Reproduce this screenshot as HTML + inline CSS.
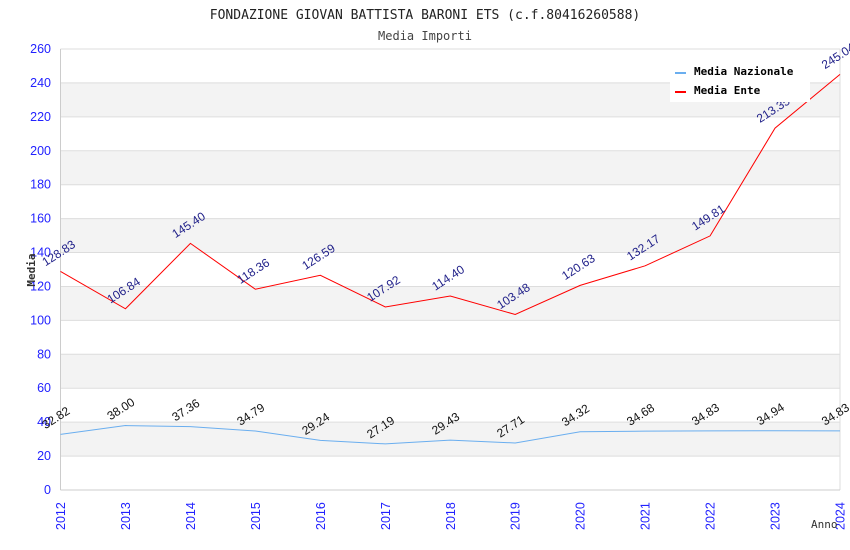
<!DOCTYPE html>
<html><head><meta charset="utf-8"><style>
body{margin:0;background:#fff;}
svg{display:block;font-family:"DejaVu Sans Mono","Liberation Mono",monospace;}
</style></head><body>
<svg id="chart" width="850" height="550" xmlns="http://www.w3.org/2000/svg">
<text x="425" y="19" text-anchor="middle" font-size="13" fill="#222">FONDAZIONE GIOVAN BATTISTA BARONI ETS (c.f.80416260588)</text>
<text x="425" y="40" text-anchor="middle" font-size="12" fill="#444">Media Importi</text>
<g id="bands"></g><g id="grid"></g><g id="axes"></g><g id="series"></g>
<text transform="translate(35,270) rotate(-90)" text-anchor="middle" font-size="11" font-weight="bold" fill="#333">Media</text>
<text x="811" y="528" font-size="11" fill="#333">Anno</text>
<g>
<rect x="670" y="60" width="140" height="42" fill="#fff"/>
<line x1="675" y1="73" x2="686" y2="73" stroke="#6aaeef" stroke-width="2"/>
<text x="694" y="75" font-size="11" font-weight="bold" fill="#000">Media Nazionale</text>
<line x1="675" y1="92" x2="686" y2="92" stroke="#f00" stroke-width="2"/>
<text x="694" y="94" font-size="11" font-weight="bold" fill="#000">Media Ente</text>
</g>
</svg>
<script>
const years=["2012","2013","2014","2015","2016","2017","2018","2019","2020","2021","2022","2023","2024"];
const nazionale=[32.82,38.00,37.36,34.79,29.24,27.19,29.43,27.71,34.32,34.68,34.83,34.94,34.83];
const ente=[128.83,106.84,145.40,118.36,126.59,107.92,114.40,103.48,120.63,132.17,149.81,213.35,245.04];
const yTicks=[0,20,40,60,80,100,120,140,160,180,200,220,240,260];
const NS="http://www.w3.org/2000/svg";
const L=60.5,R=840,T=49,B=490,YMAX=260;
const xs=i=>L+(R-L)*i/(years.length-1);
const ys=v=>B-(B-T)*v/YMAX;
function mk(t,a,p){const e=document.createElementNS(NS,t);for(const k in a)e.setAttribute(k,a[k]);p.appendChild(e);return e;}
const bands=document.getElementById('bands'),grid=document.getElementById('grid'),axes=document.getElementById('axes'),ser=document.getElementById('series');
for(let i=0;i<yTicks.length-1;i++){if(i%2===1){const r=mk('rect',{x:L,y:ys(yTicks[i+1]),width:R-L,height:ys(yTicks[i])-ys(yTicks[i+1]),fill:'#f3f3f3'},bands);

}}
yTicks.forEach(v=>{const l=mk('line',{x1:L,x2:R,y1:ys(v),y2:ys(v),stroke:'#ddd','stroke-width':1},grid);


const t=mk('text',{x:51,y:ys(v)+4,'text-anchor':'end','font-size':12.5,fill:'#22f','font-family':'Liberation Sans, sans-serif'},axes);t.textContent=v;

});
mk('line',{x1:L,x2:L,y1:T,y2:B,stroke:'#ccc'},axes);mk('line',{x1:R,x2:R,y1:T,y2:B,stroke:'#ddd'},axes);mk('line',{x1:L,x2:R,y1:B,y2:B,stroke:'#ccc'},axes);
years.forEach((y,i)=>{const t=mk('text',{transform:`translate(${xs(i)+4.5},${B+40}) rotate(-90)`,'font-size':12.5,fill:'#22f','font-family':'Liberation Sans, sans-serif'},axes);t.textContent=y;

});
function series(vals,color,lc,name){
const p=mk('polyline',{points:vals.map((v,i)=>xs(i)+','+ys(v)).join(' '),fill:'none',stroke:color,'stroke-width':1},ser);


vals.forEach((v,i)=>{const t=mk('text',{transform:`translate(${xs(i)-15},${ys(v)-5}) rotate(-33)`,'font-size':12,fill:lc,'font-family':'Liberation Sans, sans-serif'},ser);t.textContent=v.toFixed(2);

});}
series(nazionale,'#6aaeef','#111','nazionale');
series(ente,'#f00','#22228a','ente');
</script>
</body></html>
